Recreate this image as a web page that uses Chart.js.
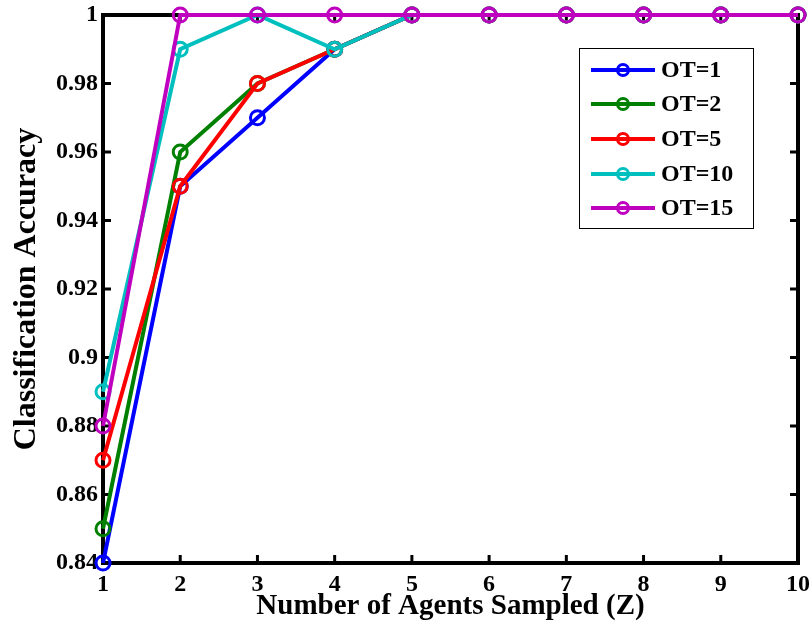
<!DOCTYPE html>
<html>
<head>
<meta charset="utf-8">
<script src="https://cdn.jsdelivr.net/npm/chart.js@4"></script>
<style>
  html, body { margin: 0; padding: 0; background: #fff; }
  #wrap { width: 812px; height: 634px; }
</style>
</head>
<body>
<div id="wrap"><canvas id="myChart" width="812" height="634"></canvas></div>
<script>
// values
var agents = [1, 2, 3, 4, 5, 6, 7, 8, 9, 10];
var ot1  = [0.84, 0.95, 0.97, 0.99, 1, 1, 1, 1, 1, 1];
var ot2  = [0.85, 0.96, 0.98, 0.99, 1, 1, 1, 1, 1, 1];
var ot5  = [0.87, 0.95, 0.98, 0.99, 1, 1, 1, 1, 1, 1];
var ot10 = [0.89, 0.99, 1, 0.99, 1, 1, 1, 1, 1, 1];
var ot15 = [0.88, 1, 1, 1, 1, 1, 1, 1, 1, 1];
var seriesNames = ['OT=1', 'OT=2', 'OT=5', 'OT=10', 'OT=15'];
var seriesColors = ['#0000ff', '#008000', '#ff0000', '#00bfbf', '#bf00bf'];

var FONT = '"Liberation Serif", "Times New Roman", serif';

function toPoints(vals) {
  return agents.map(function (a, i) { return { x: a, y: vals[i] }; });
}

var allSeries = [ot1, ot2, ot5, ot10, ot15];
var datasets = allSeries.map(function (vals, i) {
  return {
    label: seriesNames[i],
    data: toPoints(vals),
    order: allSeries.length - i, // later series drawn on top, like matlab
    borderColor: seriesColors[i],
    backgroundColor: 'rgba(0,0,0,0)',
    borderWidth: 4,
    pointRadius: 7,
    pointBorderWidth: 3,
    pointBackgroundColor: 'rgba(0,0,0,0)',
    pointBorderColor: seriesColors[i],
    tension: 0,
    clip: false
  };
});

// box + inward ticks, drawn under the lines
var boxPlugin = {
  id: 'box',
  beforeDatasetsDraw: function (chart) {
    var ctx = chart.ctx, a = chart.chartArea;
    var xs = chart.scales.x, ys = chart.scales.y;
    ctx.save();
    ctx.strokeStyle = '#000';
    ctx.lineWidth = 3;
    var tl = 8;
    xs.ticks.forEach(function (t) {
      var px = xs.getPixelForValue(t.value);
      ctx.beginPath();
      ctx.moveTo(px, a.bottom); ctx.lineTo(px, a.bottom - tl);
      ctx.moveTo(px, a.top); ctx.lineTo(px, a.top + tl);
      ctx.stroke();
    });
    ys.ticks.forEach(function (t) {
      var py = ys.getPixelForValue(t.value);
      ctx.beginPath();
      ctx.moveTo(a.left, py); ctx.lineTo(a.left + tl, py);
      ctx.moveTo(a.right, py); ctx.lineTo(a.right - tl, py);
      ctx.stroke();
    });
    ctx.lineWidth = 4;
    ctx.strokeRect(a.left, a.top, a.right - a.left, a.bottom - a.top);
    ctx.restore();
  },
  afterDatasetsDraw: function (chart) {
    // legend box inside the plot
    var ctx = chart.ctx;
    var bx = 579, by = 48, bw = 174, bh = 180;
    ctx.save();
    ctx.fillStyle = '#fff';
    ctx.fillRect(bx, by, bw, bh);
    ctx.strokeStyle = '#000';
    ctx.lineWidth = 1;
    ctx.strokeRect(bx + 0.5, by + 0.5, bw, bh);
    var rows = [70, 104, 139, 174, 208];
    ctx.font = 'bold 24px ' + FONT;
    ctx.textBaseline = 'middle';
    ctx.textAlign = 'left';
    seriesNames.forEach(function (name, i) {
      var y = rows[i];
      ctx.strokeStyle = seriesColors[i];
      ctx.lineWidth = 4;
      ctx.beginPath();
      ctx.moveTo(591, y); ctx.lineTo(655, y);
      ctx.stroke();
      ctx.lineWidth = 3;
      ctx.beginPath();
      ctx.arc(623, y, 5.5, 0, Math.PI * 2);
      ctx.stroke();
      ctx.fillStyle = '#000';
      ctx.fillText(name, 661, y + 1);
    });
    ctx.restore();
  }
};

var ctx = document.getElementById('myChart').getContext('2d');
var myChart = new Chart(ctx, {
  type: 'line',
  data: { datasets: datasets },
  options: {
    responsive: false,
    animation: false,
    layout: { padding: { top: 15, right: 14, left: 0, bottom: 0 } },
    plugins: { legend: { display: false }, tooltip: { enabled: false } },
    scales: {
      x: {
        type: 'linear',
        min: 1, max: 10,
        grid: { display: false, drawTicks: false },
        border: { display: false },
        ticks: {
          stepSize: 1, padding: 7, color: '#000',
          font: { family: FONT, size: 24, weight: 'bold' },
          maxRotation: 0
        },
        title: {
          display: true, text: 'Number of Agents Sampled (Z)', color: '#000',
          font: { family: FONT, size: 29, weight: 'bold' },
          padding: { top: 0, bottom: 10 }
        },
        afterFit: function (s) { s.height = 71; s.paddingLeft = 0; s.paddingRight = 0; }
      },
      y: {
        min: 0.84, max: 1,
        grid: { display: false, drawTicks: false },
        border: { display: false },
        ticks: {
          stepSize: 0.02, padding: 5, color: '#000',
          font: { family: FONT, size: 24, weight: 'bold' },
          callback: function (v) { return String(Number(v.toFixed(2))); }
        },
        title: {
          display: true, text: 'Classification Accuracy', color: '#000',
          font: { family: FONT, size: 32, weight: 'bold' },
          padding: { top: 8, bottom: 0 }
        },
        afterFit: function (s) { s.width = 103; s.paddingTop = 0; s.paddingBottom = 0; }
      }
    }
  },
  plugins: [boxPlugin]
});
</script>
</body>
</html>
